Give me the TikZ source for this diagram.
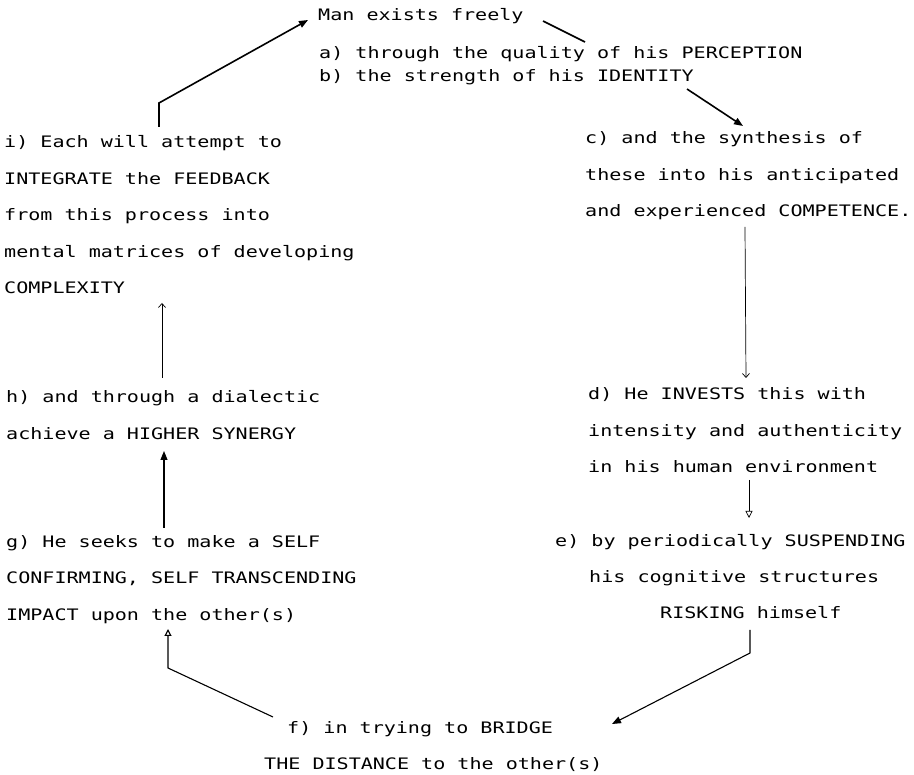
\documentclass[tikz,border=0pt]{standalone}
\usepackage{fontspec}
\newfontfamily\tw[FakeStretch=1.27]{DejaVu Sans Mono}
\usetikzlibrary{arrows.meta}
\begin{document}
\begin{tikzpicture}[x=1pt,y=-1pt,
  txt/.style={anchor=base west, inner sep=0pt, align=left, font=\tw\fontsize{15.8}{36.5}\selectfont},
  txttop/.style={txt, font=\tw\fontsize{15.8}{22.5}\selectfont},
  heavy/.style={line width=1.6pt},
  medium/.style={line width=1.1pt},
  light/.style={line width=0.7pt},
  filledtip/.style={-{Triangle[length=9pt,width=7pt]}},
  opentip/.style={-{Triangle[open,length=7pt,width=7pt]}},
  barbtip/.style={-{Straight Barb[length=4pt,width=7pt]}}
]
\useasboundingbox (0,0) rectangle (914,775);

% text blocks (anchored at the baseline of their last line)
\node[txt] (man) at (318,21) {Man exists freely};
\node[txttop] (ab) at (319,81.5) {a) through the quality of his PERCEPTION\\b) the strength of his IDENTITY};
\node[txt] (i) at (4,294) {i) Each will attempt to\\INTEGRATE the FEEDBACK\\from this process into\\mental matrices of developing\\COMPLEXITY};
\node[txt] (c) at (585,217) {c) and the synthesis of\\these into his anticipated\\and experienced COMPETENCE.};
\node[txt] (h) at (6,439.5) {h) and through a dialectic\\achieve a HIGHER SYNERGY};
\node[txt] (d) at (588,473) {d) He INVESTS this with\\intensity and authenticity\\in his human environment};
\node[txt] (g) at (6,620) {g) He seeks to make a SELF\\CONFIRMING, SELF TRANSCENDING\\IMPACT upon the other(s)};
\node[txt] (e) at (555,619) {e) by periodically SUSPENDING\\\hspace*{34pt}his cognitive structures\\\hspace*{105pt}RISKING himself};
\node[txt] (f) at (264,769.5) {\hspace*{23pt}f) in trying to BRIDGE\\THE DISTANCE to the other(s)};

% connector points
\coordinate (iTop) at (159,127);
\coordinate (iBend) at (159,103);
\coordinate (manIn) at (308,20);
\coordinate (manOut) at (543,21);
\coordinate (aIn) at (585,42);
\coordinate (bOut) at (687,89);
\coordinate (cIn) at (743,126);
\coordinate (cOut) at (745,227);
\coordinate (dIn) at (746,378);
\coordinate (dOut) at (749,480);
\coordinate (eIn) at (749,518);
\coordinate (eOut) at (750,630);
\coordinate (eBend) at (750,653);
\coordinate (fIn) at (612,724);
\coordinate (fOut) at (273,717);
\coordinate (fBend) at (168,668);
\coordinate (gIn) at (168,629);
\coordinate (gOut) at (164,528);
\coordinate (hIn) at (164,451);
\coordinate (hOut) at (162,378);
\coordinate (iIn) at (162,303);

% connectors
\draw[heavy, filledtip] (iTop) -- (iBend) -- (manIn);
\draw[heavy] (manOut) -- (aIn);
\draw[heavy, filledtip] (bOut) -- (cIn);
\draw[light, barbtip] (cOut) -- (dIn);
\draw[light, opentip] (dOut) -- (eIn);
\draw[medium, filledtip] (eOut) -- (eBend) -- (fIn);
\draw[medium, opentip] (fOut) -- (fBend) -- (gIn);
\draw[medium, filledtip] (gOut) -- (hIn);
\draw[light, barbtip] (hOut) -- (iIn);
\end{tikzpicture}
\end{document}
